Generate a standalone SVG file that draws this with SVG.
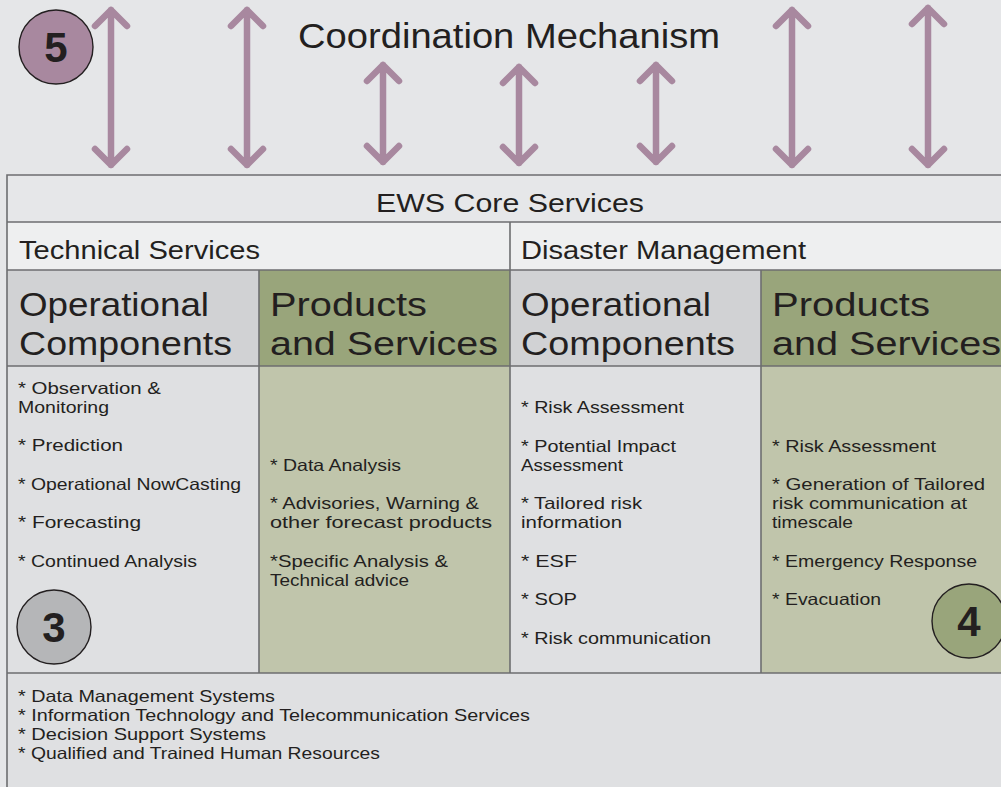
<svg xmlns="http://www.w3.org/2000/svg" width="1001" height="787" viewBox="0 0 1001 787">
<defs>
<style>
.t{font-family:"Liberation Sans",Arial,sans-serif;fill:#231f20}
.b{font-size:16.5px}
.h{font-size:34px}
.m{font-size:25px}
.ti{font-size:35px}
.ln{stroke:#6d6e70;stroke-width:1.6;fill:none}
.arr{stroke:#a8889f;stroke-width:6.5;fill:none;stroke-linecap:round;stroke-linejoin:round}
.num{font-family:"Liberation Sans",Arial,sans-serif;font-weight:bold;font-size:42px;fill:#231f20;text-anchor:middle}
.circ{stroke:#231f20;stroke-width:1.4}
</style>
</defs>
<rect width="1001" height="787" fill="#e5e6e8"/>

<g id="connectors">
<path class="arr" d="M111 10V165M95 26L111 10L127 26M95 149L111 165L127 149"/>
<path class="arr" d="M247 10V165M231 26L247 10L263 26M231 149L247 165L263 149"/>
<path class="arr" d="M383 65V162M367 81L383 65L399 81M367 146L383 162L399 146"/>
<path class="arr" d="M519 67V163M503 83L519 67L535 83M503 147L519 163L535 147"/>
<path class="arr" d="M656 65V162M640 81L656 65L672 81M640 146L656 162L672 146"/>
<path class="arr" d="M792 10V165M776 26L792 10L808 26M776 149L792 165L808 149"/>
<path class="arr" d="M928 8V165M912 24L928 8L944 24M912 149L928 165L944 149"/>
</g>

<g id="coordination">
<circle class="circ" cx="56" cy="47" r="37" fill="#a8889f"/>
<text class="num" x="56" y="62">5</text>
<text class="t ti" x="298" y="48" textLength="422" lengthAdjust="spacingAndGlyphs">Coordination Mechanism</text>
</g>

<g id="ews-core">
<rect x="7" y="175" width="1000" height="47" fill="#e6e7e9"/>
<text class="t m" x="376" y="212" textLength="268" lengthAdjust="spacingAndGlyphs">EWS Core Services</text>
</g>

<g id="technical-services">
<rect x="7" y="222" width="503" height="48" fill="#eeeff0"/>
<text class="t m" x="19" y="259" textLength="241" lengthAdjust="spacingAndGlyphs">Technical Services</text>
</g>

<g id="disaster-management">
<rect x="510" y="222" width="497" height="48" fill="#eeeff0"/>
<text class="t m" x="521" y="259" textLength="285" lengthAdjust="spacingAndGlyphs">Disaster Management</text>
</g>

<g id="tech-operational">
<rect x="7" y="270" width="252" height="96" fill="#d1d2d4"/>
<rect x="7" y="366" width="252" height="307" fill="#dfe0e2"/>
<text class="t h" x="19" y="316" textLength="190" lengthAdjust="spacingAndGlyphs">Operational</text>
<text class="t h" x="19" y="355" textLength="213" lengthAdjust="spacingAndGlyphs">Components</text>
<text class="t b" x="18" y="394" textLength="143" lengthAdjust="spacingAndGlyphs">* Observation &amp;</text>
<text class="t b" x="18" y="413" textLength="91" lengthAdjust="spacingAndGlyphs">Monitoring</text>
<text class="t b" x="18" y="451" textLength="105" lengthAdjust="spacingAndGlyphs">* Prediction</text>
<text class="t b" x="18" y="490" textLength="223" lengthAdjust="spacingAndGlyphs">* Operational NowCasting</text>
<text class="t b" x="18" y="528" textLength="123" lengthAdjust="spacingAndGlyphs">* Forecasting</text>
<text class="t b" x="18" y="567" textLength="179" lengthAdjust="spacingAndGlyphs">* Continued Analysis</text>
<circle class="circ" cx="54" cy="627" r="37" fill="#b5b6b8"/>
<text class="num" x="54" y="642">3</text>
</g>

<g id="tech-products">
<rect x="259" y="270" width="251" height="96" fill="#99a57b"/>
<rect x="259" y="366" width="251" height="307" fill="#c0c5ab"/>
<text class="t h" x="270" y="316" textLength="157" lengthAdjust="spacingAndGlyphs">Products</text>
<text class="t h" x="270" y="355" textLength="228" lengthAdjust="spacingAndGlyphs">and Services</text>
<text class="t b" x="270" y="471" textLength="131" lengthAdjust="spacingAndGlyphs">* Data Analysis</text>
<text class="t b" x="270" y="509" textLength="209" lengthAdjust="spacingAndGlyphs">* Advisories, Warning &amp;</text>
<text class="t b" x="270" y="528" textLength="222" lengthAdjust="spacingAndGlyphs">other forecast products</text>
<text class="t b" x="270" y="567" textLength="178" lengthAdjust="spacingAndGlyphs">*Specific Analysis &amp;</text>
<text class="t b" x="270" y="586" textLength="139" lengthAdjust="spacingAndGlyphs">Technical advice</text>
</g>

<g id="dm-operational">
<rect x="510" y="270" width="251" height="96" fill="#d1d2d4"/>
<rect x="510" y="366" width="251" height="307" fill="#dfe0e2"/>
<text class="t h" x="521" y="316" textLength="190" lengthAdjust="spacingAndGlyphs">Operational</text>
<text class="t h" x="521" y="355" textLength="214" lengthAdjust="spacingAndGlyphs">Components</text>
<text class="t b" x="521" y="413" textLength="163" lengthAdjust="spacingAndGlyphs">* Risk Assessment</text>
<text class="t b" x="521" y="452" textLength="155" lengthAdjust="spacingAndGlyphs">* Potential Impact</text>
<text class="t b" x="521" y="471" textLength="102" lengthAdjust="spacingAndGlyphs">Assessment</text>
<text class="t b" x="521" y="509" textLength="121" lengthAdjust="spacingAndGlyphs">* Tailored risk</text>
<text class="t b" x="521" y="528" textLength="101" lengthAdjust="spacingAndGlyphs">information</text>
<text class="t b" x="521" y="567" textLength="56" lengthAdjust="spacingAndGlyphs">* ESF</text>
<text class="t b" x="521" y="605" textLength="56" lengthAdjust="spacingAndGlyphs">* SOP</text>
<text class="t b" x="521" y="644" textLength="190" lengthAdjust="spacingAndGlyphs">* Risk communication</text>
</g>

<g id="dm-products">
<rect x="761" y="270" width="246" height="96" fill="#99a57b"/>
<rect x="761" y="366" width="246" height="307" fill="#c0c5ab"/>
<text class="t h" x="772" y="316" textLength="158" lengthAdjust="spacingAndGlyphs">Products</text>
<text class="t h" x="772" y="355" textLength="229" lengthAdjust="spacingAndGlyphs">and Services</text>
<text class="t b" x="772" y="452" textLength="164" lengthAdjust="spacingAndGlyphs">* Risk Assessment</text>
<text class="t b" x="772" y="490" textLength="213" lengthAdjust="spacingAndGlyphs">* Generation of Tailored</text>
<text class="t b" x="772" y="509" textLength="195" lengthAdjust="spacingAndGlyphs">risk communication at</text>
<text class="t b" x="772" y="528" textLength="81" lengthAdjust="spacingAndGlyphs">timescale</text>
<text class="t b" x="772" y="567" textLength="205" lengthAdjust="spacingAndGlyphs">* Emergency Response</text>
<text class="t b" x="772" y="605" textLength="109" lengthAdjust="spacingAndGlyphs">* Evacuation</text>
<circle class="circ" cx="969" cy="621" r="37" fill="#99a57b"/>
<text class="num" x="969" y="636">4</text>
</g>

<g id="support-systems">
<rect x="7" y="673" width="1000" height="120" fill="#dfe0e2"/>
<text class="t b" x="18" y="702" textLength="257" lengthAdjust="spacingAndGlyphs">* Data Management Systems</text>
<text class="t b" x="18" y="721" textLength="512" lengthAdjust="spacingAndGlyphs">* Information Technology and Telecommunication Services</text>
<text class="t b" x="18" y="740" textLength="248" lengthAdjust="spacingAndGlyphs">* Decision Support Systems</text>
<text class="t b" x="18" y="759" textLength="362" lengthAdjust="spacingAndGlyphs">* Qualified and Trained Human Resources</text>
</g>

<g id="grid-lines">
<path class="ln" d="M7 793V175H1007M7 222H1007M7 270H1007M7 366H1007M7 673H1007M510 222V673M259 270V673M761 270V673"/>
</g>
</svg>
